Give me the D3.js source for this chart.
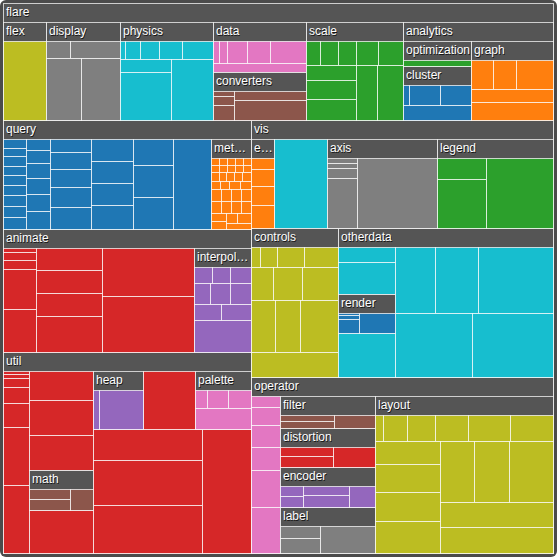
<!DOCTYPE html>
<html>
<head>
<meta charset="utf-8">
<script src="https://cdn.jsdelivr.net/npm/d3@7"></script>
<style>
html, body { margin: 0; padding: 0; background: #fff; }
svg { display: block; }
</style>
</head>
<body>
<script>
// ---------- data (package -> children, in source order; strings are sub-packages) ----------
const flare = ["analytics", "animate", "data", "display", "flex", "physics", "query", "scale", "util", "vis"];
const analytics = ["cluster", "graph", "optimization"];
const cluster = [["AgglomerativeCluster", 3938], ["CommunityStructure", 3812], ["HierarchicalCluster", 6714], ["MergeEdge", 743]];
const graph = [["BetweennessCentrality", 3534], ["LinkDistance", 5731], ["MaxFlowMinCut", 7840], ["ShortestPaths", 5914], ["SpanningTree", 3416]];
const optimization = [["AspectRatioBanker", 7074]];
const animate = [["Easing", 17010], ["FunctionSequence", 5842], "interpolate", ["ISchedulable", 1041], ["Parallel", 5176], ["Pause", 449], ["Scheduler", 5593], ["Sequence", 5534], ["Transition", 9201], ["Transitioner", 19975], ["TransitionEvent", 1116], ["Tween", 6006]];
const interpolate = [["ArrayInterpolator", 1983], ["ColorInterpolator", 2047], ["DateInterpolator", 1375], ["Interpolator", 8746], ["MatrixInterpolator", 2202], ["NumberInterpolator", 1382], ["ObjectInterpolator", 1629], ["PointInterpolator", 1675], ["RectangleInterpolator", 2042]];
const data = ["converters", ["DataField", 1759], ["DataSchema", 2165], ["DataSet", 586], ["DataSource", 3331], ["DataTable", 772], ["DataUtil", 3322]];
const converters = [["Converters", 721], ["DelimitedTextConverter", 4294], ["GraphMLConverter", 9800], ["IDataConverter", 1314], ["JSONConverter", 2220]];
const display = [["DirtySprite", 8833], ["LineSprite", 1732], ["RectSprite", 3623], ["TextSprite", 10066]];
const flex = [["FlareVis", 13800]];
const physics = [["DragForce", 1082], ["GravityForce", 1336], ["IForce", 319], ["NBodyForce", 10498], ["Particle", 2822], ["Simulation", 9983], ["Spring", 2213], ["SpringForce", 1681]];
const query = [["AggregateExpression", 1616], ["And", 1027], ["Arithmetic", 3891], ["Average", 891], ["BinaryExpression", 2893], ["Comparison", 5103], ["CompositeExpression", 3677], ["Count", 781], ["DateUtil", 4141], ["Distinct", 933], ["Expression", 5130], ["ExpressionIterator", 3617], ["Fn", 3240], ["If", 2732], ["IsA", 2039], ["Literal", 1214], ["Match", 3748], ["Maximum", 843], "methods", ["Minimum", 843], ["Not", 1554], ["Or", 970], ["Query", 13896], ["Range", 1594], ["StringUtil", 4130], ["Sum", 791], ["Variable", 1124], ["Variance", 1876], ["Xor", 1101]];
const methods = [["add", 593], ["and", 330], ["average", 287], ["count", 277], ["distinct", 292], ["div", 595], ["eq", 594], ["fn", 460], ["gt", 603], ["gte", 625], ["iff", 748], ["isa", 461], ["lt", 597], ["lte", 619], ["max", 283], ["min", 283], ["mod", 591], ["mul", 603], ["neq", 599], ["not", 386], ["or", 323], ["orderby", 307], ["range", 772], ["select", 296], ["stddev", 363], ["sub", 600], ["sum", 280], ["update", 307], ["variance", 335], ["where", 299], ["xor", 354], ["_", 264]];
const scale = [["IScaleMap", 2105], ["LinearScale", 1316], ["LogScale", 3151], ["OrdinalScale", 3770], ["QuantileScale", 2435], ["QuantitativeScale", 4839], ["RootScale", 1756], ["Scale", 4268], ["ScaleType", 1821], ["TimeScale", 5833]];
const util = [["Arrays", 8258], ["Colors", 10001], ["Dates", 8217], ["Displays", 12555], ["Filter", 2324], ["Geometry", 10993], "heap", ["IEvaluable", 335], ["IPredicate", 383], ["IValueProxy", 874], "math", ["Maths", 17705], ["Orientation", 1486], "palette", ["Property", 5559], ["Shapes", 19118], ["Sort", 6887], ["Stats", 6557], ["Strings", 22026]];
const heap = [["FibonacciHeap", 9354], ["HeapNode", 1233]];
const math = [["DenseMatrix", 3165], ["IMatrix", 2815], ["SparseMatrix", 3366]];
const palette = [["ColorPalette", 6367], ["Palette", 1229], ["ShapePalette", 2059], ["SizePalette", 2291]];
const vis = ["axis", "controls", "otherdata", "events", "legend", "operator", ["Visualization", 16540]];
const axis = [["Axes", 1302], ["Axis", 24593], ["AxisGridLine", 652], ["AxisLabel", 636], ["CartesianAxes", 6703]];
const controls = [["AnchorControl", 2138], ["ClickControl", 3824], ["Control", 1353], ["ControlList", 4665], ["DragControl", 2649], ["ExpandControl", 2832], ["HoverControl", 4896], ["IControl", 763], ["PanZoomControl", 5222], ["SelectionControl", 7862], ["TooltipControl", 8435]];
const otherdata = [["Data", 20544], ["DataList", 19788], ["DataSprite", 10349], ["EdgeSprite", 3301], ["NodeSprite", 19382], "render", ["ScaleBinding", 11275], ["Tree", 7147], ["TreeBuilder", 9930]];
const render = [["ArrowType", 698], ["EdgeRenderer", 5569], ["IRenderer", 353], ["ShapeRenderer", 2247]];
const events = [["DataEvent", 2313], ["SelectionEvent", 1880], ["TooltipEvent", 1701], ["VisualizationEvent", 1117]];
const legend = [["Legend", 20859], ["LegendItem", 4614], ["LegendRange", 10530]];
const operator = ["distortion", "encoder", "filter", ["IOperator", 1286], "label", "layout", ["Operator", 2490], ["OperatorList", 5248], ["OperatorSequence", 4190], ["OperatorSwitch", 2581], ["SortOperator", 2023]];
const distortion = [["BifocalDistortion", 4461], ["Distortion", 6314], ["FisheyeDistortion", 3444]];
const encoder = [["ColorEncoder", 3179], ["Encoder", 4060], ["PropertyEncoder", 4138], ["ShapeEncoder", 1690], ["SizeEncoder", 1830]];
const filter = [["FisheyeTreeFilter", 5219], ["GraphDistanceFilter", 3165], ["VisibilityFilter", 3509]];
const label = [["Label", 9956], ["RadialLabeler", 3899], ["StackedAreaLabeler", 3202]];
const layout = [["AxisLayout", 6725], ["BundledEdgeRouter", 3727], ["CircleLayout", 9317], ["CirclePackingLayout", 12003], ["DendrogramLayout", 4853], ["ForceDirectedLayout", 8411], ["IcicleTreeLayout", 4864], ["IndentedTreeLayout", 3174], ["Layout", 7881], ["NodeLinkTreeLayout", 12870], ["PieLayout", 2728], ["RadialTreeLayout", 12348], ["RandomLayout", 870], ["StackedAreaLayout", 9121], ["TreeMapLayout", 9191]];

const packages = { flare, analytics, cluster, graph, optimization, animate, interpolate, data, converters,
  display, flex, physics, query, methods, scale, util, heap, math, palette, vis, axis, controls,
  otherdata, render, events, legend, operator, distortion, encoder, filter, label, layout };

function build(name) {
  return {
    name,
    children: packages[name].map((c, i) =>
      typeof c === "string" ? Object.assign(build(c), { idx: i }) : { name: c[0], value: c[1], idx: i })
  };
}

// ---------- layout ----------
const W = 557, H = 557, SIZE = 550, HEADER = 19;

const root = d3.hierarchy(build("flare")).sum(d => d.children ? 0 : d.value);

const color = d3.scaleOrdinal(d3.schemeCategory10);
root.leaves().forEach(l => color(l.parent.data.name));

root.sort((a, b) => (a.value - b.value) || (b.data.idx - a.data.idx));

// plain squarified layout (ties start with a horizontal row)
d3.treemap().size([SIZE, SIZE]).round(false)
  .tile((node, x0, y0, x1, y1) => d3.treemapSquarify(node, x0, y0, x1, y1 + 1e-6))(root);

// keep the plain rects, then squeeze every node's children below its header
root.each(d => { d.p = [d.x0, d.y0, d.x1, d.y1]; });
root.eachBefore(d => {
  if (!d.children) return;
  const [px0, py0, px1, py1] = d.p;
  const cx0 = d.x0, cy0 = d.y0 + HEADER, cx1 = d.x1, cy1 = d.y1;
  const sx = (cx1 - cx0) / (px1 - px0), sy = (cy1 - cy0) / (py1 - py0);
  for (const c of d.children) {
    c.x0 = cx0 + (c.p[0] - px0) * sx; c.x1 = cx0 + (c.p[2] - px0) * sx;
    c.y0 = cy0 + (c.p[1] - py0) * sy; c.y1 = cy0 + (c.p[3] - py0) * sy;
  }
});
root.each(d => {
  d.x0 = Math.round(d.x0); d.y0 = Math.round(d.y0);
  d.x1 = Math.round(d.x1); d.y1 = Math.round(d.y1);
});

// ---------- draw ----------
const svg = d3.select("body").append("svg").attr("width", W).attr("height", H);
svg.append("rect").attr("width", W).attr("height", H).attr("rx", 6).attr("fill", "#4b4b4b");

const g = svg.append("g").attr("transform", "translate(3,3)");
const nodes = root.descendants();

g.selectAll("rect.node").data(nodes).join("rect")
  .attr("class", "node")
  .attr("x", d => d.x0 + 0.5)
  .attr("y", d => d.y0 + 0.5)
  .attr("width", d => Math.max(0, d.x1 - d.x0))
  .attr("height", d => Math.max(0, d.y1 - d.y0))
  .attr("fill", d => d.children ? "#555555" : color(d.parent.data.name))
  .attr("stroke", "#ffffff")
  .attr("stroke-opacity", 0.72);

const font = "'Liberation Sans', Arial, Helvetica, sans-serif";
const inner = nodes.filter(d => d.children);
const lab = g.selectAll("g.lab").data(inner).join("g").attr("class", "lab");

lab.each(function(d) {
  const sel = d3.select(this);
  const avail = d.x1 - d.x0 - 2;
  const shadow = sel.append("text").attr("x", d.x0 + 3.7).attr("y", d.y0 + 14.1)
    .attr("fill", "#000").attr("fill-opacity", 0.75);
  const t = sel.append("text").attr("x", d.x0 + 3).attr("y", d.y0 + 13.4).attr("fill", "#fff");
  [shadow, t].forEach(s => s.style("font-family", font).style("font-size", "12px"));
  let txt = d.data.name;
  t.text(txt);
  if (t.node().getComputedTextLength() > avail) {
    for (let i = txt.length - 1; i >= 0; i--) {
      const cand = txt.slice(0, i) + "…";
      t.text(cand);
      if (t.node().getComputedTextLength() <= avail || i === 0) { txt = cand; break; }
    }
  }
  t.text(txt);
  shadow.text(txt);
});
</script>
</body>
</html>
